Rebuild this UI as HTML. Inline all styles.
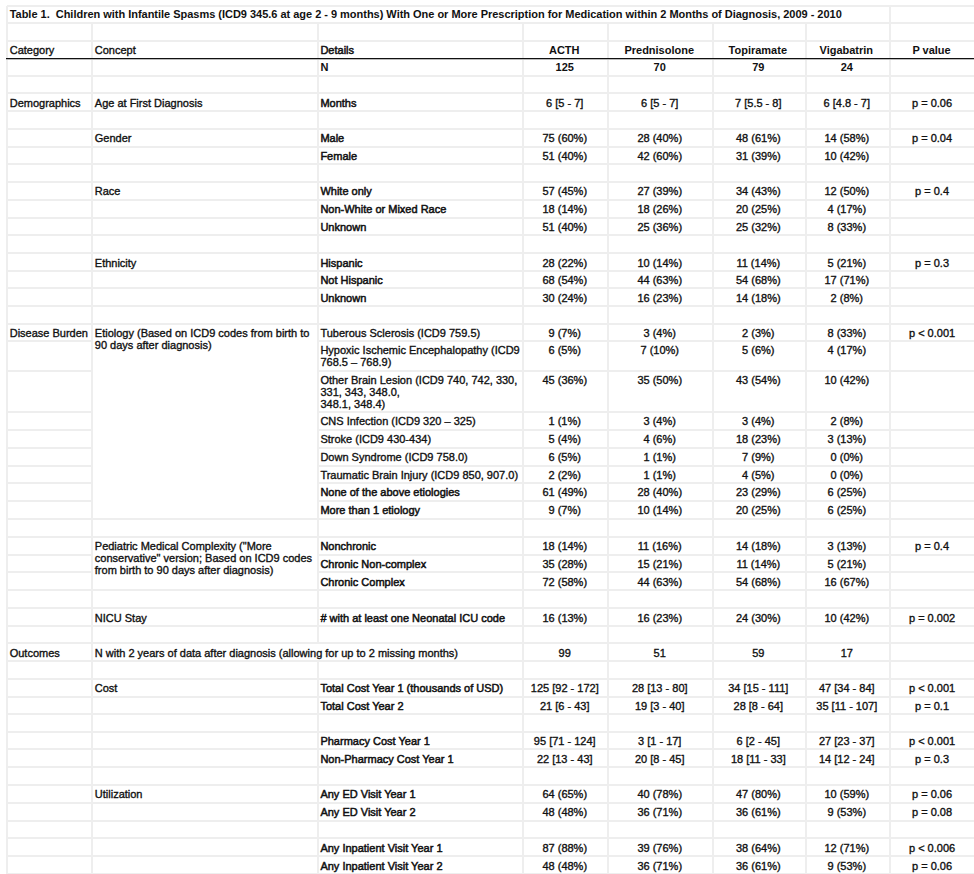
<!DOCTYPE html>
<html><head><meta charset="utf-8"><style>
html,body{margin:0;padding:0;background:#fff;}
body{width:974px;height:874px;position:relative;overflow:hidden;}
.l{position:absolute;}
.t{position:absolute;font-family:"Liberation Sans",sans-serif;font-size:11px;line-height:12px;color:#111;white-space:nowrap;-webkit-text-stroke:0.35px #111;}
.b{font-weight:bold;-webkit-text-stroke:0;}
.ttl{letter-spacing:-0.02px;}
.d{-webkit-text-stroke:0.5px #111;}
.d.b{-webkit-text-stroke:0;}
</style></head><body>
<div class="l" style="left:6.5px;top:4.50px;width:967.5px;height:2px;background:#eeeeee"></div>
<div class="l" style="left:6.5px;top:21.90px;width:967.5px;height:2px;background:#eeeeee"></div>
<div class="l" style="left:6.5px;top:39.50px;width:967.5px;height:2px;background:#eeeeee"></div>
<div class="l" style="left:6.5px;top:74.50px;width:967.5px;height:2px;background:#eeeeee"></div>
<div class="l" style="left:6.5px;top:92.40px;width:967.5px;height:2px;background:#eeeeee"></div>
<div class="l" style="left:6.5px;top:110.30px;width:967.5px;height:2px;background:#eeeeee"></div>
<div class="l" style="left:6.5px;top:127.90px;width:967.5px;height:2px;background:#eeeeee"></div>
<div class="l" style="left:6.5px;top:145.60px;width:967.5px;height:2px;background:#eeeeee"></div>
<div class="l" style="left:6.5px;top:163.40px;width:967.5px;height:2px;background:#eeeeee"></div>
<div class="l" style="left:6.5px;top:180.80px;width:967.5px;height:2px;background:#eeeeee"></div>
<div class="l" style="left:6.5px;top:198.70px;width:967.5px;height:2px;background:#eeeeee"></div>
<div class="l" style="left:6.5px;top:216.60px;width:967.5px;height:2px;background:#eeeeee"></div>
<div class="l" style="left:6.5px;top:234.00px;width:967.5px;height:2px;background:#eeeeee"></div>
<div class="l" style="left:6.5px;top:252.10px;width:967.5px;height:2px;background:#eeeeee"></div>
<div class="l" style="left:6.5px;top:269.50px;width:967.5px;height:2px;background:#eeeeee"></div>
<div class="l" style="left:6.5px;top:287.40px;width:967.5px;height:2px;background:#eeeeee"></div>
<div class="l" style="left:6.5px;top:305.20px;width:967.5px;height:2px;background:#eeeeee"></div>
<div class="l" style="left:6.5px;top:322.70px;width:967.5px;height:2px;background:#eeeeee"></div>
<div class="l" style="left:6.5px;top:340.30px;width:85.9px;height:2px;background:#eeeeee"></div>
<div class="l" style="left:318.2px;top:340.30px;width:655.8px;height:2px;background:#eeeeee"></div>
<div class="l" style="left:6.5px;top:370.10px;width:85.9px;height:2px;background:#eeeeee"></div>
<div class="l" style="left:318.2px;top:370.10px;width:655.8px;height:2px;background:#eeeeee"></div>
<div class="l" style="left:6.5px;top:411.40px;width:85.9px;height:2px;background:#eeeeee"></div>
<div class="l" style="left:318.2px;top:411.40px;width:655.8px;height:2px;background:#eeeeee"></div>
<div class="l" style="left:6.5px;top:429.10px;width:85.9px;height:2px;background:#eeeeee"></div>
<div class="l" style="left:318.2px;top:429.10px;width:655.8px;height:2px;background:#eeeeee"></div>
<div class="l" style="left:6.5px;top:447.10px;width:85.9px;height:2px;background:#eeeeee"></div>
<div class="l" style="left:318.2px;top:447.10px;width:655.8px;height:2px;background:#eeeeee"></div>
<div class="l" style="left:6.5px;top:464.70px;width:85.9px;height:2px;background:#eeeeee"></div>
<div class="l" style="left:318.2px;top:464.70px;width:655.8px;height:2px;background:#eeeeee"></div>
<div class="l" style="left:6.5px;top:482.30px;width:85.9px;height:2px;background:#eeeeee"></div>
<div class="l" style="left:318.2px;top:482.30px;width:655.8px;height:2px;background:#eeeeee"></div>
<div class="l" style="left:6.5px;top:500.20px;width:85.9px;height:2px;background:#eeeeee"></div>
<div class="l" style="left:318.2px;top:500.20px;width:655.8px;height:2px;background:#eeeeee"></div>
<div class="l" style="left:6.5px;top:517.70px;width:967.5px;height:2px;background:#eeeeee"></div>
<div class="l" style="left:6.5px;top:535.80px;width:967.5px;height:2px;background:#eeeeee"></div>
<div class="l" style="left:6.5px;top:553.80px;width:85.9px;height:2px;background:#eeeeee"></div>
<div class="l" style="left:318.2px;top:553.80px;width:655.8px;height:2px;background:#eeeeee"></div>
<div class="l" style="left:6.5px;top:571.40px;width:85.9px;height:2px;background:#eeeeee"></div>
<div class="l" style="left:318.2px;top:571.40px;width:655.8px;height:2px;background:#eeeeee"></div>
<div class="l" style="left:6.5px;top:589.00px;width:967.5px;height:2px;background:#eeeeee"></div>
<div class="l" style="left:6.5px;top:607.30px;width:967.5px;height:2px;background:#eeeeee"></div>
<div class="l" style="left:6.5px;top:624.80px;width:967.5px;height:2px;background:#eeeeee"></div>
<div class="l" style="left:6.5px;top:642.40px;width:967.5px;height:2px;background:#eeeeee"></div>
<div class="l" style="left:6.5px;top:660.40px;width:967.5px;height:2px;background:#eeeeee"></div>
<div class="l" style="left:6.5px;top:678.00px;width:967.5px;height:2px;background:#eeeeee"></div>
<div class="l" style="left:6.5px;top:695.50px;width:967.5px;height:2px;background:#eeeeee"></div>
<div class="l" style="left:6.5px;top:712.90px;width:967.5px;height:2px;background:#eeeeee"></div>
<div class="l" style="left:6.5px;top:730.50px;width:967.5px;height:2px;background:#eeeeee"></div>
<div class="l" style="left:6.5px;top:748.20px;width:967.5px;height:2px;background:#eeeeee"></div>
<div class="l" style="left:6.5px;top:765.80px;width:967.5px;height:2px;background:#eeeeee"></div>
<div class="l" style="left:6.5px;top:783.90px;width:967.5px;height:2px;background:#eeeeee"></div>
<div class="l" style="left:6.5px;top:801.50px;width:967.5px;height:2px;background:#eeeeee"></div>
<div class="l" style="left:6.5px;top:819.50px;width:967.5px;height:2px;background:#eeeeee"></div>
<div class="l" style="left:6.5px;top:837.10px;width:967.5px;height:2px;background:#eeeeee"></div>
<div class="l" style="left:6.5px;top:855.10px;width:967.5px;height:2px;background:#eeeeee"></div>
<div class="l" style="left:6.5px;top:872.50px;width:967.5px;height:2px;background:#eeeeee"></div>
<div class="l" style="left:5.50px;top:5.5px;width:2px;height:868.5px;background:#eeeeee"></div>
<div class="l" style="left:91.40px;top:22.9px;width:2px;height:851.1px;background:#eeeeee"></div>
<div class="l" style="left:317.20px;top:22.9px;width:2px;height:620.5px;background:#eeeeee"></div>
<div class="l" style="left:317.20px;top:661.4px;width:2px;height:212.6px;background:#eeeeee"></div>
<div class="l" style="left:521.50px;top:22.9px;width:2px;height:851.1px;background:#eeeeee"></div>
<div class="l" style="left:607.40px;top:22.9px;width:2px;height:851.1px;background:#eeeeee"></div>
<div class="l" style="left:711.50px;top:22.9px;width:2px;height:851.1px;background:#eeeeee"></div>
<div class="l" style="left:804.50px;top:22.9px;width:2px;height:851.1px;background:#eeeeee"></div>
<div class="l" style="left:888.50px;top:5.5px;width:2px;height:868.5px;background:#eeeeee"></div>
<div class="l" style="left:6px;top:58px;width:968px;height:1px;background:#111"></div>
<div class="l" style="left:6px;top:59px;width:968px;height:1px;background:#bbb"></div>
<div class="t b ttl" style="left:9.70px;top:8.40px;">Table 1.&nbsp; Children with Infantile Spasms (ICD9 345.6 at age 2 - 9 months) With One or More Prescription for Medication within 2 Months of Diagnosis, 2009 - 2010</div>
<div class="t " style="left:9.70px;top:43.90px;">Category</div>
<div class="t " style="left:94.80px;top:43.90px;">Concept</div>
<div class="t d" style="left:320.40px;top:43.90px;">Details</div>
<div class="t b " style="left:521.30px;top:43.90px;width:85.90px;text-align:center;">ACTH</div>
<div class="t b " style="left:607.20px;top:43.90px;width:104.10px;text-align:center;">Prednisolone</div>
<div class="t b " style="left:711.30px;top:43.90px;width:93.00px;text-align:center;">Topiramate</div>
<div class="t b " style="left:804.30px;top:43.90px;width:84.00px;text-align:center;">Vigabatrin</div>
<div class="t b " style="left:888.30px;top:43.90px;width:86.50px;text-align:center;">P value</div>
<div class="t b d" style="left:320.40px;top:60.50px;">N</div>
<div class="t b " style="left:521.80px;top:60.50px;width:85.90px;text-align:center;">125</div>
<div class="t b " style="left:607.70px;top:60.50px;width:104.10px;text-align:center;">70</div>
<div class="t b " style="left:711.80px;top:60.50px;width:93.00px;text-align:center;">79</div>
<div class="t b " style="left:804.80px;top:60.50px;width:84.00px;text-align:center;">24</div>
<div class="t " style="left:9.70px;top:96.80px;">Demographics</div>
<div class="t " style="left:94.80px;top:96.80px;">Age at First Diagnosis</div>
<div class="t d" style="left:320.40px;top:96.80px;">Months</div>
<div class="t " style="left:521.80px;top:96.80px;width:85.90px;text-align:center;">6 [5 - 7]</div>
<div class="t " style="left:607.70px;top:96.80px;width:104.10px;text-align:center;">6 [5 - 7]</div>
<div class="t " style="left:711.80px;top:96.80px;width:93.00px;text-align:center;">7 [5.5 - 8]</div>
<div class="t " style="left:804.80px;top:96.80px;width:84.00px;text-align:center;">6 [4.8 - 7]</div>
<div class="t " style="left:888.80px;top:96.80px;width:86.50px;text-align:center;">p = 0.06</div>
<div class="t " style="left:94.80px;top:132.30px;">Gender</div>
<div class="t d" style="left:320.40px;top:132.30px;">Male</div>
<div class="t " style="left:521.80px;top:132.30px;width:85.90px;text-align:center;">75 (60%)</div>
<div class="t " style="left:607.70px;top:132.30px;width:104.10px;text-align:center;">28 (40%)</div>
<div class="t " style="left:711.80px;top:132.30px;width:93.00px;text-align:center;">48 (61%)</div>
<div class="t " style="left:804.80px;top:132.30px;width:84.00px;text-align:center;">14 (58%)</div>
<div class="t " style="left:888.80px;top:132.30px;width:86.50px;text-align:center;">p = 0.04</div>
<div class="t d" style="left:320.40px;top:150.00px;">Female</div>
<div class="t " style="left:521.80px;top:150.00px;width:85.90px;text-align:center;">51 (40%)</div>
<div class="t " style="left:607.70px;top:150.00px;width:104.10px;text-align:center;">42 (60%)</div>
<div class="t " style="left:711.80px;top:150.00px;width:93.00px;text-align:center;">31 (39%)</div>
<div class="t " style="left:804.80px;top:150.00px;width:84.00px;text-align:center;">10 (42%)</div>
<div class="t " style="left:94.80px;top:185.20px;">Race</div>
<div class="t d" style="left:320.40px;top:185.20px;">White only</div>
<div class="t " style="left:521.80px;top:185.20px;width:85.90px;text-align:center;">57 (45%)</div>
<div class="t " style="left:607.70px;top:185.20px;width:104.10px;text-align:center;">27 (39%)</div>
<div class="t " style="left:711.80px;top:185.20px;width:93.00px;text-align:center;">34 (43%)</div>
<div class="t " style="left:804.80px;top:185.20px;width:84.00px;text-align:center;">12 (50%)</div>
<div class="t " style="left:888.80px;top:185.20px;width:86.50px;text-align:center;">p = 0.4</div>
<div class="t d" style="left:320.40px;top:203.10px;">Non-White or Mixed Race</div>
<div class="t " style="left:521.80px;top:203.10px;width:85.90px;text-align:center;">18 (14%)</div>
<div class="t " style="left:607.70px;top:203.10px;width:104.10px;text-align:center;">18 (26%)</div>
<div class="t " style="left:711.80px;top:203.10px;width:93.00px;text-align:center;">20 (25%)</div>
<div class="t " style="left:804.80px;top:203.10px;width:84.00px;text-align:center;">4 (17%)</div>
<div class="t d" style="left:320.40px;top:221.00px;">Unknown</div>
<div class="t " style="left:521.80px;top:221.00px;width:85.90px;text-align:center;">51 (40%)</div>
<div class="t " style="left:607.70px;top:221.00px;width:104.10px;text-align:center;">25 (36%)</div>
<div class="t " style="left:711.80px;top:221.00px;width:93.00px;text-align:center;">25 (32%)</div>
<div class="t " style="left:804.80px;top:221.00px;width:84.00px;text-align:center;">8 (33%)</div>
<div class="t " style="left:94.80px;top:256.50px;">Ethnicity</div>
<div class="t d" style="left:320.40px;top:256.50px;">Hispanic</div>
<div class="t " style="left:521.80px;top:256.50px;width:85.90px;text-align:center;">28 (22%)</div>
<div class="t " style="left:607.70px;top:256.50px;width:104.10px;text-align:center;">10 (14%)</div>
<div class="t " style="left:711.80px;top:256.50px;width:93.00px;text-align:center;">11 (14%)</div>
<div class="t " style="left:804.80px;top:256.50px;width:84.00px;text-align:center;">5 (21%)</div>
<div class="t " style="left:888.80px;top:256.50px;width:86.50px;text-align:center;">p = 0.3</div>
<div class="t d" style="left:320.40px;top:273.90px;">Not Hispanic</div>
<div class="t " style="left:521.80px;top:273.90px;width:85.90px;text-align:center;">68 (54%)</div>
<div class="t " style="left:607.70px;top:273.90px;width:104.10px;text-align:center;">44 (63%)</div>
<div class="t " style="left:711.80px;top:273.90px;width:93.00px;text-align:center;">54 (68%)</div>
<div class="t " style="left:804.80px;top:273.90px;width:84.00px;text-align:center;">17 (71%)</div>
<div class="t d" style="left:320.40px;top:291.80px;">Unknown</div>
<div class="t " style="left:521.80px;top:291.80px;width:85.90px;text-align:center;">30 (24%)</div>
<div class="t " style="left:607.70px;top:291.80px;width:104.10px;text-align:center;">16 (23%)</div>
<div class="t " style="left:711.80px;top:291.80px;width:93.00px;text-align:center;">14 (18%)</div>
<div class="t " style="left:804.80px;top:291.80px;width:84.00px;text-align:center;">2 (8%)</div>
<div class="t " style="left:9.70px;top:326.60px;">Disease Burden</div>
<div class="t " style="left:94.80px;top:326.60px;">Etiology (Based on ICD9 codes from birth to<br>90 days after diagnosis)</div>
<div class="t " style="left:320.40px;top:326.60px;">Tuberous Sclerosis (ICD9 759.5)</div>
<div class="t " style="left:521.80px;top:326.60px;width:85.90px;text-align:center;">9 (7%)</div>
<div class="t " style="left:607.70px;top:326.60px;width:104.10px;text-align:center;">3 (4%)</div>
<div class="t " style="left:711.80px;top:326.60px;width:93.00px;text-align:center;">2 (3%)</div>
<div class="t " style="left:804.80px;top:326.60px;width:84.00px;text-align:center;">8 (33%)</div>
<div class="t " style="left:888.80px;top:326.60px;width:86.50px;text-align:center;">p &lt; 0.001</div>
<div class="t " style="left:320.40px;top:343.70px;">Hypoxic Ischemic Encephalopathy (ICD9<br>768.5 &ndash; 768.9)</div>
<div class="t " style="left:521.80px;top:343.70px;width:85.90px;text-align:center;">6 (5%)</div>
<div class="t " style="left:607.70px;top:343.70px;width:104.10px;text-align:center;">7 (10%)</div>
<div class="t " style="left:711.80px;top:343.70px;width:93.00px;text-align:center;">5 (6%)</div>
<div class="t " style="left:804.80px;top:343.70px;width:84.00px;text-align:center;">4 (17%)</div>
<div class="t " style="left:320.40px;top:373.50px;">Other Brain Lesion (ICD9 740, 742, 330,<br>331, 343, 348.0,<br>348.1, 348.4)</div>
<div class="t " style="left:521.80px;top:373.50px;width:85.90px;text-align:center;">45 (36%)</div>
<div class="t " style="left:607.70px;top:373.50px;width:104.10px;text-align:center;">35 (50%)</div>
<div class="t " style="left:711.80px;top:373.50px;width:93.00px;text-align:center;">43 (54%)</div>
<div class="t " style="left:804.80px;top:373.50px;width:84.00px;text-align:center;">10 (42%)</div>
<div class="t " style="left:320.40px;top:415.20px;">CNS Infection (ICD9 320 &ndash; 325)</div>
<div class="t " style="left:521.80px;top:415.20px;width:85.90px;text-align:center;">1 (1%)</div>
<div class="t " style="left:607.70px;top:415.20px;width:104.10px;text-align:center;">3 (4%)</div>
<div class="t " style="left:711.80px;top:415.20px;width:93.00px;text-align:center;">3 (4%)</div>
<div class="t " style="left:804.80px;top:415.20px;width:84.00px;text-align:center;">2 (8%)</div>
<div class="t " style="left:320.40px;top:432.90px;">Stroke (ICD9 430-434)</div>
<div class="t " style="left:521.80px;top:432.90px;width:85.90px;text-align:center;">5 (4%)</div>
<div class="t " style="left:607.70px;top:432.90px;width:104.10px;text-align:center;">4 (6%)</div>
<div class="t " style="left:711.80px;top:432.90px;width:93.00px;text-align:center;">18 (23%)</div>
<div class="t " style="left:804.80px;top:432.90px;width:84.00px;text-align:center;">3 (13%)</div>
<div class="t " style="left:320.40px;top:450.90px;">Down Syndrome (ICD9 758.0)</div>
<div class="t " style="left:521.80px;top:450.90px;width:85.90px;text-align:center;">6 (5%)</div>
<div class="t " style="left:607.70px;top:450.90px;width:104.10px;text-align:center;">1 (1%)</div>
<div class="t " style="left:711.80px;top:450.90px;width:93.00px;text-align:center;">7 (9%)</div>
<div class="t " style="left:804.80px;top:450.90px;width:84.00px;text-align:center;">0 (0%)</div>
<div class="t " style="left:320.40px;top:468.50px;">Traumatic Brain Injury (ICD9 850, 907.0)</div>
<div class="t " style="left:521.80px;top:468.50px;width:85.90px;text-align:center;">2 (2%)</div>
<div class="t " style="left:607.70px;top:468.50px;width:104.10px;text-align:center;">1 (1%)</div>
<div class="t " style="left:711.80px;top:468.50px;width:93.00px;text-align:center;">4 (5%)</div>
<div class="t " style="left:804.80px;top:468.50px;width:84.00px;text-align:center;">0 (0%)</div>
<div class="t d" style="left:320.40px;top:486.10px;">None of the above etiologies</div>
<div class="t " style="left:521.80px;top:486.10px;width:85.90px;text-align:center;">61 (49%)</div>
<div class="t " style="left:607.70px;top:486.10px;width:104.10px;text-align:center;">28 (40%)</div>
<div class="t " style="left:711.80px;top:486.10px;width:93.00px;text-align:center;">23 (29%)</div>
<div class="t " style="left:804.80px;top:486.10px;width:84.00px;text-align:center;">6 (25%)</div>
<div class="t d" style="left:320.40px;top:504.00px;">More than 1 etiology</div>
<div class="t " style="left:521.80px;top:504.00px;width:85.90px;text-align:center;">9 (7%)</div>
<div class="t " style="left:607.70px;top:504.00px;width:104.10px;text-align:center;">10 (14%)</div>
<div class="t " style="left:711.80px;top:504.00px;width:93.00px;text-align:center;">20 (25%)</div>
<div class="t " style="left:804.80px;top:504.00px;width:84.00px;text-align:center;">6 (25%)</div>
<div class="t " style="left:94.80px;top:540.20px;">Pediatric Medical Complexity ("More<br>conservative" version; Based on ICD9 codes<br>from birth to 90 days after diagnosis)</div>
<div class="t d" style="left:320.40px;top:540.20px;">Nonchronic</div>
<div class="t " style="left:521.80px;top:540.20px;width:85.90px;text-align:center;">18 (14%)</div>
<div class="t " style="left:607.70px;top:540.20px;width:104.10px;text-align:center;">11 (16%)</div>
<div class="t " style="left:711.80px;top:540.20px;width:93.00px;text-align:center;">14 (18%)</div>
<div class="t " style="left:804.80px;top:540.20px;width:84.00px;text-align:center;">3 (13%)</div>
<div class="t " style="left:888.80px;top:540.20px;width:86.50px;text-align:center;">p = 0.4</div>
<div class="t d" style="left:320.40px;top:558.20px;">Chronic Non-complex</div>
<div class="t " style="left:521.80px;top:558.20px;width:85.90px;text-align:center;">35 (28%)</div>
<div class="t " style="left:607.70px;top:558.20px;width:104.10px;text-align:center;">15 (21%)</div>
<div class="t " style="left:711.80px;top:558.20px;width:93.00px;text-align:center;">11 (14%)</div>
<div class="t " style="left:804.80px;top:558.20px;width:84.00px;text-align:center;">5 (21%)</div>
<div class="t d" style="left:320.40px;top:575.80px;">Chronic Complex</div>
<div class="t " style="left:521.80px;top:575.80px;width:85.90px;text-align:center;">72 (58%)</div>
<div class="t " style="left:607.70px;top:575.80px;width:104.10px;text-align:center;">44 (63%)</div>
<div class="t " style="left:711.80px;top:575.80px;width:93.00px;text-align:center;">54 (68%)</div>
<div class="t " style="left:804.80px;top:575.80px;width:84.00px;text-align:center;">16 (67%)</div>
<div class="t " style="left:94.80px;top:611.70px;">NICU Stay</div>
<div class="t d" style="left:320.40px;top:611.70px;"># with at least one Neonatal ICU code</div>
<div class="t " style="left:521.80px;top:611.70px;width:85.90px;text-align:center;">16 (13%)</div>
<div class="t " style="left:607.70px;top:611.70px;width:104.10px;text-align:center;">16 (23%)</div>
<div class="t " style="left:711.80px;top:611.70px;width:93.00px;text-align:center;">24 (30%)</div>
<div class="t " style="left:804.80px;top:611.70px;width:84.00px;text-align:center;">10 (42%)</div>
<div class="t " style="left:888.80px;top:611.70px;width:86.50px;text-align:center;">p = 0.002</div>
<div class="t " style="left:9.70px;top:646.80px;">Outcomes</div>
<div class="t " style="left:94.80px;top:646.80px;">N with 2 years of data after diagnosis (allowing for up to 2 missing months)</div>
<div class="t " style="left:521.80px;top:646.80px;width:85.90px;text-align:center;">99</div>
<div class="t " style="left:607.70px;top:646.80px;width:104.10px;text-align:center;">51</div>
<div class="t " style="left:711.80px;top:646.80px;width:93.00px;text-align:center;">59</div>
<div class="t " style="left:804.80px;top:646.80px;width:84.00px;text-align:center;">17</div>
<div class="t " style="left:94.80px;top:682.40px;">Cost</div>
<div class="t d" style="left:320.40px;top:682.40px;">Total Cost Year 1 (thousands of USD)</div>
<div class="t " style="left:521.80px;top:682.40px;width:85.90px;text-align:center;">125 [92 - 172]</div>
<div class="t " style="left:607.70px;top:682.40px;width:104.10px;text-align:center;">28 [13 - 80]</div>
<div class="t " style="left:711.80px;top:682.40px;width:93.00px;text-align:center;">34 [15 - 111]</div>
<div class="t " style="left:804.80px;top:682.40px;width:84.00px;text-align:center;">47 [34 - 84]</div>
<div class="t " style="left:888.80px;top:682.40px;width:86.50px;text-align:center;">p &lt; 0.001</div>
<div class="t d" style="left:320.40px;top:699.90px;">Total Cost Year 2</div>
<div class="t " style="left:521.80px;top:699.90px;width:85.90px;text-align:center;">21 [6 - 43]</div>
<div class="t " style="left:607.70px;top:699.90px;width:104.10px;text-align:center;">19 [3 - 40]</div>
<div class="t " style="left:711.80px;top:699.90px;width:93.00px;text-align:center;">28 [8 - 64]</div>
<div class="t " style="left:804.80px;top:699.90px;width:84.00px;text-align:center;">35 [11 - 107]</div>
<div class="t " style="left:888.80px;top:699.90px;width:86.50px;text-align:center;">p = 0.1</div>
<div class="t d" style="left:320.40px;top:734.90px;">Pharmacy Cost Year 1</div>
<div class="t " style="left:521.80px;top:734.90px;width:85.90px;text-align:center;">95 [71 - 124]</div>
<div class="t " style="left:607.70px;top:734.90px;width:104.10px;text-align:center;">3 [1 - 17]</div>
<div class="t " style="left:711.80px;top:734.90px;width:93.00px;text-align:center;">6 [2 - 45]</div>
<div class="t " style="left:804.80px;top:734.90px;width:84.00px;text-align:center;">27 [23 - 37]</div>
<div class="t " style="left:888.80px;top:734.90px;width:86.50px;text-align:center;">p &lt; 0.001</div>
<div class="t d" style="left:320.40px;top:752.60px;">Non-Pharmacy Cost Year 1</div>
<div class="t " style="left:521.80px;top:752.60px;width:85.90px;text-align:center;">22 [13 - 43]</div>
<div class="t " style="left:607.70px;top:752.60px;width:104.10px;text-align:center;">20 [8 - 45]</div>
<div class="t " style="left:711.80px;top:752.60px;width:93.00px;text-align:center;">18 [11 - 33]</div>
<div class="t " style="left:804.80px;top:752.60px;width:84.00px;text-align:center;">14 [12 - 24]</div>
<div class="t " style="left:888.80px;top:752.60px;width:86.50px;text-align:center;">p = 0.3</div>
<div class="t " style="left:94.80px;top:788.30px;">Utilization</div>
<div class="t d" style="left:320.40px;top:788.30px;">Any ED Visit Year 1</div>
<div class="t " style="left:521.80px;top:788.30px;width:85.90px;text-align:center;">64 (65%)</div>
<div class="t " style="left:607.70px;top:788.30px;width:104.10px;text-align:center;">40 (78%)</div>
<div class="t " style="left:711.80px;top:788.30px;width:93.00px;text-align:center;">47 (80%)</div>
<div class="t " style="left:804.80px;top:788.30px;width:84.00px;text-align:center;">10 (59%)</div>
<div class="t " style="left:888.80px;top:788.30px;width:86.50px;text-align:center;">p = 0.06</div>
<div class="t d" style="left:320.40px;top:805.90px;">Any ED Visit Year 2</div>
<div class="t " style="left:521.80px;top:805.90px;width:85.90px;text-align:center;">48 (48%)</div>
<div class="t " style="left:607.70px;top:805.90px;width:104.10px;text-align:center;">36 (71%)</div>
<div class="t " style="left:711.80px;top:805.90px;width:93.00px;text-align:center;">36 (61%)</div>
<div class="t " style="left:804.80px;top:805.90px;width:84.00px;text-align:center;">9 (53%)</div>
<div class="t " style="left:888.80px;top:805.90px;width:86.50px;text-align:center;">p = 0.08</div>
<div class="t d" style="left:320.40px;top:841.50px;">Any Inpatient Visit Year 1</div>
<div class="t " style="left:521.80px;top:841.50px;width:85.90px;text-align:center;">87 (88%)</div>
<div class="t " style="left:607.70px;top:841.50px;width:104.10px;text-align:center;">39 (76%)</div>
<div class="t " style="left:711.80px;top:841.50px;width:93.00px;text-align:center;">38 (64%)</div>
<div class="t " style="left:804.80px;top:841.50px;width:84.00px;text-align:center;">12 (71%)</div>
<div class="t " style="left:888.80px;top:841.50px;width:86.50px;text-align:center;">p &lt; 0.006</div>
<div class="t d" style="left:320.40px;top:859.50px;">Any Inpatient Visit Year 2</div>
<div class="t " style="left:521.80px;top:859.50px;width:85.90px;text-align:center;">48 (48%)</div>
<div class="t " style="left:607.70px;top:859.50px;width:104.10px;text-align:center;">36 (71%)</div>
<div class="t " style="left:711.80px;top:859.50px;width:93.00px;text-align:center;">36 (61%)</div>
<div class="t " style="left:804.80px;top:859.50px;width:84.00px;text-align:center;">9 (53%)</div>
<div class="t " style="left:888.80px;top:859.50px;width:86.50px;text-align:center;">p = 0.06</div>
</body></html>
